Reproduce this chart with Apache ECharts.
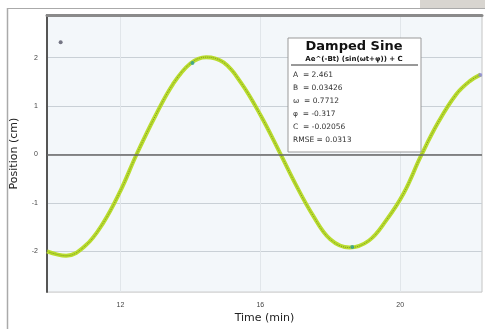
<!DOCTYPE html>
<html>
<head>
<meta charset="utf-8">
<script src="https://cdn.jsdelivr.net/npm/echarts@6/dist/echarts.min.js"></script>
<style>
html,body{margin:0;padding:0;background:#fff;}
#main{width:485px;height:329px;}
</style>
</head>
<body>
<div id="main"></div>
<script>
// time (min) and position (cm)
var time=[9.9,10.45,11.0,11.5,12.0,12.46,13.0,13.5,14.0,14.45,14.95,15.45,16.0,16.55,17.0,17.5,18.0,18.55,19.1,19.6,20.1,20.6,21.1,21.6,22.0,22.3]
var pos=[-2.0,-2.09,-1.88,-1.42,-0.75,0,0.8,1.45,1.88,2.01,1.9,1.48,0.82,0.05,-0.6,-1.25,-1.75,-1.92,-1.78,-1.36,-0.8,-0.02,0.68,1.24,1.52,1.65]
// highlighted points
var markT=[10.29,14.06,18.63,22.29]
var markY=[2.32,1.89,-1.91,1.64]
var markColor=['#556','#2a9d9a','#2a9d9a','#8a86d8']
var xTicks=[12,16,20]
var yTicks=[-2,-1,0,1,2]
var fitLines=['A  = 2.461','B  = 0.03426','ω  = 0.7712','φ  = -0.317','C  = -0.02056','RMSE = 0.0313']

var line=[]
for(var i=0;i<time.length;i++){
	line.push([time[i],pos[i]])
}
var pts=[]
for(var i=0;i<markT.length;i++){
	pts.push({value:[markT[i],markY[i]],itemStyle:{color:markColor[i]}})
}

var mychart=echarts.init(document.getElementById('main'));
var option={
	animation:false,
	grid:{
		left:47,top:15,right:3,bottom:36,
		show:true,
		backgroundColor:'#f3f7fa',
		borderColor:'#c4c4c4',
		borderWidth:1
	},
	xAxis:[{
		type:'value',
		min:9.9,max:22.34,
		name:'Time (min)',
		nameLocation:'middle',
		nameGap:19,
		nameTextStyle:{fontSize:11,color:'#222',fontFamily:'DejaVu Sans'},
		axisLine:{show:false},
		axisTick:{show:false,customValues:xTicks},
		axisLabel:{customValues:xTicks,fontSize:7,color:'#444',margin:9},
		splitLine:{show:true,lineStyle:{color:'#e1e6ea',width:1}}
	},{
		type:'value',
		position:'top',
		min:9.9,max:22.34,
		axisLine:{show:true,lineStyle:{color:'#8a8a8a',width:3}},
		axisTick:{show:false},
		axisLabel:{show:false},
		splitLine:{show:false}
	}],
	yAxis:{
		type:'value',
		min:-2.84,max:2.88,
		name:'Position (cm)',
		nameLocation:'middle',
		nameGap:27,
		nameTextStyle:{fontSize:11,color:'#222',fontFamily:'DejaVu Sans'},
		axisLine:{show:true,lineStyle:{color:'#555',width:2}},
		axisTick:{show:false,customValues:yTicks},
		axisLabel:{customValues:yTicks,fontSize:7,color:'#444',margin:9},
		splitLine:{show:true,lineStyle:{color:'#c9d0d6',width:1}}
	},
	series:[{
		type:'line',
		data:line,
		smooth:0.4,
		showSymbol:false,
		lineStyle:{color:'#b9dc2e',width:4},
		markLine:{
			silent:true,
			symbol:'none',
			label:{show:false},
			lineStyle:{color:'#666',width:1.5,type:'solid'},
			data:[{yAxis:0}]
		},
		z:3
	},{
		type:'line',
		data:line,
		smooth:0.4,
		showSymbol:false,
		lineStyle:{color:'#7f9a22',width:1,type:'dotted'},
		z:4
	},{
		type:'scatter',
		data:pts,
		symbolSize:4,
		z:5
	}],
	graphic:[
		{type:'rect',shape:{x:420,y:0,width:65,height:8},style:{fill:'#d8d5d0'}},
		{type:'line',shape:{x1:7,y1:8.5,x2:485,y2:8.5},style:{stroke:'#aaa',lineWidth:1}},
		{type:'line',shape:{x1:7.5,y1:8,x2:7.5,y2:329},style:{stroke:'#aaa',lineWidth:1.5}},
		{type:'rect',shape:{x:288,y:38,width:133,height:114},style:{fill:'#fff',stroke:'#999',lineWidth:1},z:10},
		{type:'text',x:354,y:40,style:{text:'Damped Sine',fill:'#111',font:'bold 13px DejaVu Sans',align:'center'},z:11},
		{type:'text',x:354,y:56,style:{text:'Ae^(-Bt) (sin(ωt+φ)) + C',fill:'#111',font:'bold 7px DejaVu Sans',align:'center'},z:11},
		{type:'line',shape:{x1:291,y1:65,x2:418,y2:65},style:{stroke:'#333',lineWidth:1},z:11},
		{type:'text',x:293,y:69,style:{text:fitLines.slice(0,5).join('\n'),fill:'#333',font:'7.5px DejaVu Sans',lineHeight:13},z:11},
		{type:'text',x:293,y:136,style:{text:fitLines[5],fill:'#333',font:'7.5px DejaVu Sans'},z:11}
	]
};
mychart.setOption(option);
</script>
</body>
</html>
